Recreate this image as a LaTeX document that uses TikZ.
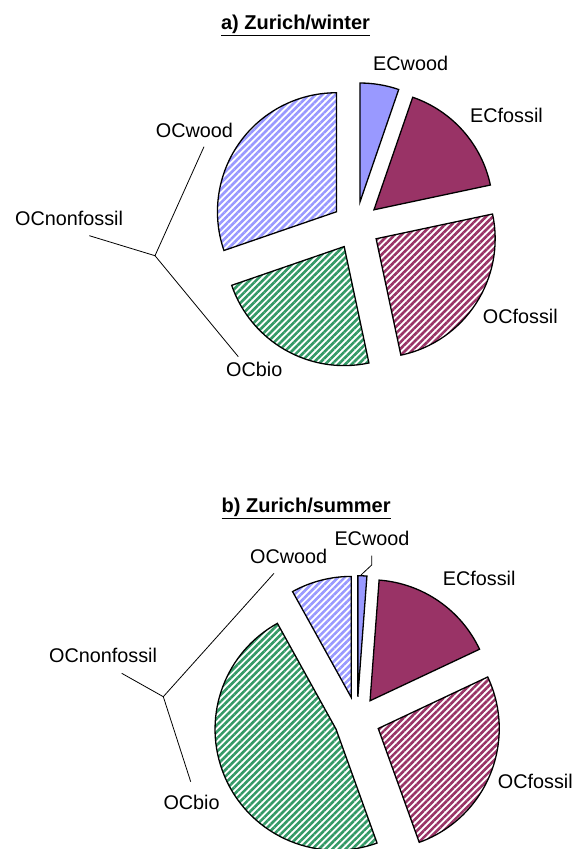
\documentclass[tikz,border=0pt]{standalone}
\usepackage{fontspec}
\setmainfont{Liberation Sans}
\usetikzlibrary{patterns.meta}
\definecolor{ecw}{RGB}{153,153,255}
\definecolor{ecf}{RGB}{153,51,102}
\definecolor{ocb}{RGB}{51,153,102}
\tikzset{
  slice/.style={draw=black, line width=1.3pt, line join=miter},
  solidslice/.style={slice, fill=#1},
  hatchslice/.style={slice, preaction={fill=white},
    pattern={Lines[angle=45,distance=4.7pt,line width=2.6pt]}, pattern color=#1},
  lbl/.style={inner sep=0pt, anchor=base west, font=\fontsize{19.8}{23}\selectfont},
  ttl/.style={inner sep=0pt, anchor=base, font=\bfseries\fontsize{20}{24}\selectfont},
  leader/.style={draw=black, line width=0.8pt},
}
% cx, cy, radius, explode, start angle, end angle, style
\newcommand\myslice[7]{%
  \pgfmathsetmacro\myMid{(#5+#6)/2}%
  \path[#7, shift={(#1,#2)}] (\myMid:#4) -- ++(#5:#3)
    arc[start angle=#5, end angle=#6, radius=#3] -- cycle;}
\begin{document}
\begin{tikzpicture}[x=1pt,y=1pt]
\useasboundingbox (0,0) rectangle (573,849);
% ---------- a) winter ----------
\node[ttl] (ta) at (295.5,819.7) {\underline{a) Zurich/winter}};
\myslice{356}{623.3}{119}{24}{90}{71}{solidslice=ecw}
\myslice{356}{623.3}{119}{24}{71}{12}{solidslice=ecf}
\myslice{356}{623.3}{119}{24}{12}{-78}{hatchslice=ecf}
\myslice{356}{623.3}{119}{24}{-78}{-161}{hatchslice=ocb}
\myslice{356}{623.3}{119}{24}{-161}{-270}{hatchslice=ecw}
\node[lbl] (aecw) at (373,778.3) {ECwood};
\node[lbl] (aecf) at (470,726.3) {ECfossil};
\node[lbl] (aocf) at (482.7,525.7) {OCfossil};
\node[lbl] (aocb) at (226,472.3) {OCbio};
\node[lbl] (aocw) at (155.7,711.3) {OCwood};
\node[lbl] (aocn) at (15,623.3) {OCnonfossil};
\coordinate (aj) at (155,593.3);
\coordinate (ajw) at (204,702.3);
\coordinate (ajn) at (89.3,613.3);
\coordinate (ajb) at (238.3,492.3);
\draw[leader] (ajw) -- (aj) -- (ajb);
\draw[leader] (ajn) -- (aj);
% ---------- b) summer ----------
\node[ttl] (tb) at (306.2,336.7) {\underline{b) Zurich/summer}};
\myslice{357}{129.3}{121}{23}{90}{85.7}{solidslice=ecw}
\myslice{357}{129.3}{121}{23}{85.7}{25.2}{solidslice=ecf}
\myslice{357}{129.3}{121}{23}{25.2}{-70.2}{hatchslice=ecf}
\myslice{357}{129.3}{121}{23}{-70.2}{-241}{hatchslice=ocb}
\myslice{357}{129.3}{121}{23}{-241}{-270}{hatchslice=ecw}
\node[lbl] (becw) at (334.3,303) {ECwood};
\node[lbl] (bocw) at (250,285) {OCwood};
\node[lbl] (becf) at (442.7,263) {ECfossil};
\node[lbl] (bocf) at (497.7,60.7) {OCfossil};
\node[lbl] (bocb) at (163.3,39.7) {OCbio};
\node[lbl] (bocn) at (49,186.3) {OCnonfossil};
\coordinate (bj) at (163.3,152.3);
\coordinate (bjw) at (274,275.7);
\coordinate (bjn) at (121.7,175.7);
\coordinate (bjb) at (190.7,67.3);
\draw[leader] (bjw) -- (bj) -- (bjb);
\draw[leader] (bjn) -- (bj);
\coordinate (bew1) at (371.7,293.3);
\coordinate (bew2) at (371.7,284);
\coordinate (bew3) at (361,274);
\draw[leader] (bew1) -- (bew2) -- (bew3);
\end{tikzpicture}
\end{document}
